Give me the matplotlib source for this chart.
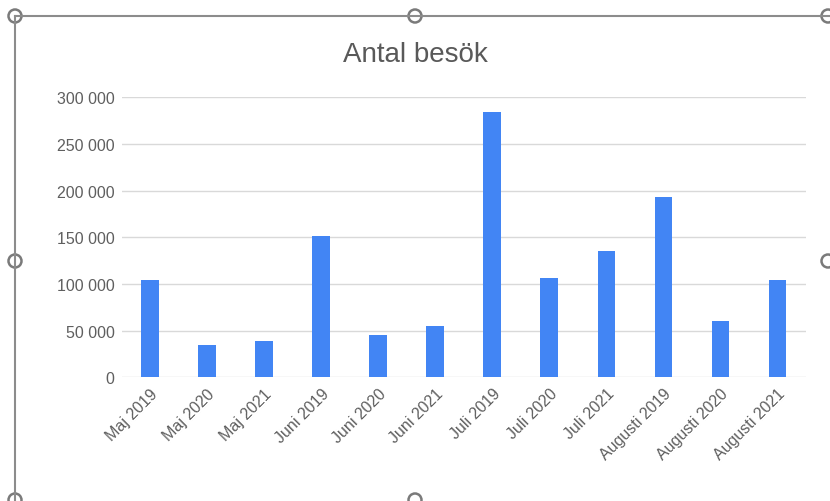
import matplotlib
matplotlib.use("Agg")
import matplotlib.pyplot as plt
from matplotlib.patches import Circle
from matplotlib.lines import Line2D
from matplotlib.transforms import IdentityTransform
from matplotlib.ticker import FuncFormatter

plt.rcParams['font.family'] = ['Liberation Sans', 'DejaVu Sans']

# data
labels = ["Maj 2019", "Maj 2020", "Maj 2021", "Juni 2019", "Juni 2020", "Juni 2021",
          "Juli 2019", "Juli 2020", "Juli 2021", "Augusti 2019", "Augusti 2020", "Augusti 2021"]
visits = [104000, 35000, 38500, 151500, 45500, 55000,
          284500, 106000, 135000, 193500, 60500, 104000]
yticks = [0, 50000, 100000, 150000, 200000, 250000, 300000]

fig = plt.figure(figsize=(8.3, 5.02), dpi=100)
ax = fig.add_axes([0.1466, 0.2464, 0.8244, 0.5578])

x = range(len(labels))
ax.bar(x, visits, width=0.31, color='#4285f4', zorder=3)

ax.set_xlim(-0.5, len(labels) - 0.5)
ax.set_ylim(0, 300000)
ax.set_yticks(yticks)
ax.yaxis.set_major_formatter(FuncFormatter(lambda v, p: f"{int(v):,}".replace(",", " ")))
ax.grid(axis='y', color='#d9d9d9', linewidth=1, zorder=0)
for s in ax.spines.values():
    s.set_visible(False)
ax.tick_params(axis='both', length=0, labelsize=11.5, labelcolor='#5f5f5f')
ax.tick_params(axis='y', pad=5)
ax.set_xticks(list(x))
ax.set_xticklabels(labels, rotation=45, ha='right', rotation_mode='anchor')
ax.tick_params(axis='x', pad=6)

fig.text(0.5, 0.89, "Antal besök", ha='center', va='center', fontsize=20, color='#595959')

# selection frame of the embedded chart
frame = '#8c8c8c'
fig.add_artist(Line2D([15/830, 1.0], [1 - 17/502, 1 - 17/502], color=frame, lw=1.5))
fig.add_artist(Line2D([15/830, 15/830], [0, 1 - 17/502], color=frame, lw=1.5))
for px, py in [(15, 17), (415, 17), (828, 17), (15, 262), (828, 262), (415, 501), (15, 501)]:
    fig.add_artist(Circle((px, 502 - py), 6.5, transform=IdentityTransform(),
                          facecolor='white', edgecolor='#7a7a7a', lw=1.8))

fig.savefig("out.png", dpi=100)
